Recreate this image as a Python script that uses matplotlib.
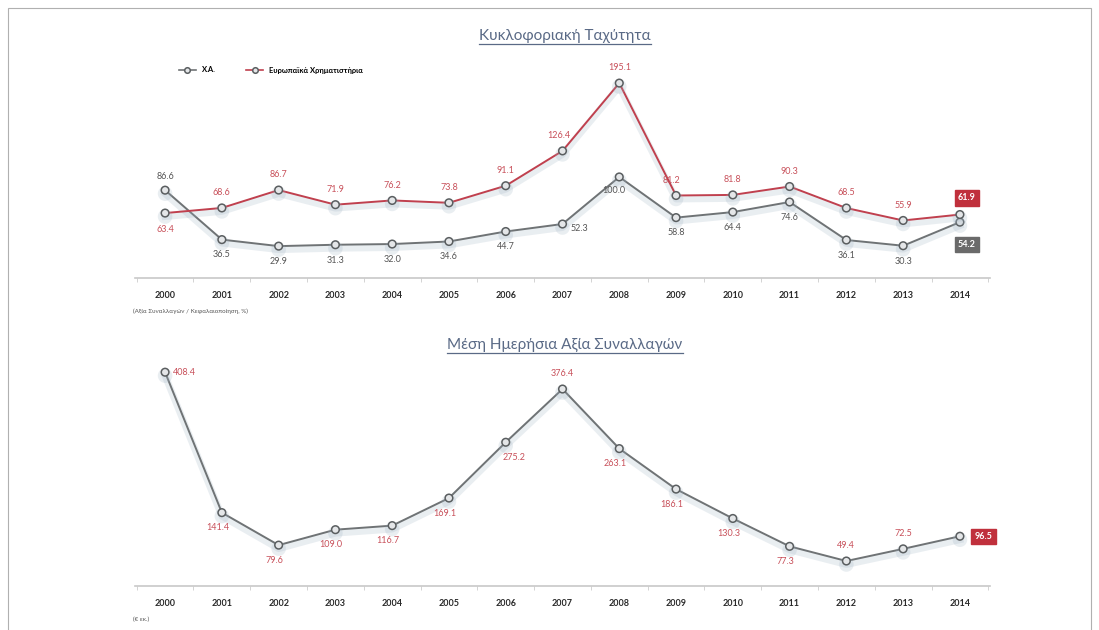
import numpy as np
import matplotlib.pyplot as plt
import matplotlib.patheffects as pe
from matplotlib.lines import Line2D
from matplotlib.patches import Rectangle

plt.rcParams['font.family'] = ['Lato', 'DejaVu Sans']

years = list(range(2000, 2015))
year_labels = [str(y) for y in years]

# Κυκλοφοριακή ταχύτητα (%)
athex_turnover = [86.6, 36.5, 29.9, 31.3, 32.0, 34.6, 44.7, 52.3, 100.0,
                  58.8, 64.4, 74.6, 36.1, 30.3, 54.2]
europe_turnover = [63.4, 68.6, 86.7, 71.9, 76.2, 73.8, 91.1, 126.4, 195.1,
                   81.2, 81.8, 90.3, 68.5, 55.9, 61.9]
# Μέση ημερήσια αξία συναλλαγών (εκ. €)
daily_value = [408.4, 141.4, 79.6, 109.0, 116.7, 169.1, 275.2, 376.4, 263.1,
               186.1, 130.3, 77.3, 49.4, 72.5, 96.5]

title_top = 'Κυκλοφοριακή Ταχύτητα'
title_bottom = 'Μέση Ημερήσια Αξία Συναλλαγών'
legend_names = ['Χ.Α.', 'Ευρωπαϊκά Χρηματιστήρια']
note_top = '(Αξία Συναλλαγών / Κεφαλαιοποίηση, %)'
note_bottom = '(€ εκ.)'

W, H = 1099, 630
grey = '#6f7375'
red = '#c0404e'
lab_red = '#c8505a'
title_col = '#5a6a86'
shadow = [pe.SimpleLineShadow(offset=(0, -2.5), shadow_color='#9fb2c2', alpha=0.22, linewidth=5),
          pe.Normal()]

fig = plt.figure(figsize=(W / 100, H / 100), dpi=100)


def px_axes(left, top, right, bottom):
    return fig.add_axes([left / W, 1 - bottom / H, (right - left) / W, (bottom - top) / H])


def style_axes(ax, ylim):
    ax.set_xlim(1999.47, 2014.53)
    ax.set_ylim(*ylim)
    for s in ['top', 'right', 'left']:
        ax.spines[s].set_visible(False)
    ax.spines['bottom'].set_color('#c8c8c8')
    ax.spines['bottom'].set_linewidth(1.2)
    ax.set_yticks([])
    ax.set_xticks(years)
    ax.set_xticklabels(year_labels, fontsize=6.5, fontweight='bold', color='#2a2a2a')
    ax.set_xticks(np.arange(1999.5, 2015, 1), minor=True)
    ax.tick_params(axis='x', which='major', length=0, pad=9)
    ax.tick_params(axis='x', which='minor', length=3, color='#cccccc')
    ax.patch.set_alpha(0)


def underlined_title(text, x, y):
    t = fig.text(x / W, 1 - y / H, text, ha='center', va='center', fontsize=11, color=title_col)
    fig.canvas.draw()
    bb = t.get_window_extent()
    fig.add_artist(Line2D([bb.x0 / W, bb.x1 / W], [(bb.y0 - 1) / H] * 2,
                          color=title_col, lw=0.9))


def boxed(ax, x, y, text, fc, dx, dy):
    ax.annotate(text, (x, y), xytext=(dx, dy), textcoords='offset points',
                ha='center', va='center', fontsize=6.5, fontweight='bold', color='white',
                bbox=dict(boxstyle='square,pad=0.35', fc=fc, ec=fc))


# ---------- top panel ----------
ax1 = px_axes(135, 60, 990, 278)
style_axes(ax1, (-2.4, 218.5))
mk = dict(marker='o', ms=5.5, mfc='#e4e6e8', mec='#5a5e60', mew=1.1)
ax1.plot(years, athex_turnover, color=grey, lw=1.4, path_effects=shadow, zorder=3, **mk)
ax1.plot(years, europe_turnover, color=red, lw=1.4, path_effects=shadow, zorder=3, **mk)

grey_pos = ['above'] + ['below'] * 6 + ['right', 'belowleft'] + ['below'] * 5 + [None]
for i, (x, v) in enumerate(zip(years, athex_turnover)):
    p = grey_pos[i]
    if p is None:
        continue
    off = {'above': (0, 10), 'below': (0, -11), 'right': (12, -3), 'belowleft': (-4, -10)}[p]
    ax1.annotate(f'{v:.1f}', (x, v), xytext=off, textcoords='offset points',
                 ha='center', va='center', fontsize=6.5, color='#555555')
for i, (x, v) in enumerate(zip(years, europe_turnover)):
    if i == 14:
        continue
    off = (0, -12) if i == 0 else (-3, 11) if i in (7, 9) else (0, 11)
    ax1.annotate(f'{v:.1f}', (x, v), xytext=off, textcoords='offset points',
                 ha='center', va='center', fontsize=6.5, color=lab_red)
boxed(ax1, years[-1], europe_turnover[-1], f'{europe_turnover[-1]:.1f}', '#c0303c', 5, 12)
boxed(ax1, years[-1], athex_turnover[-1], f'{athex_turnover[-1]:.1f}', '#6a6a6a', 5, -16)

handles = [Line2D([], [], color=grey, **mk), Line2D([], [], color=red, **mk)]
for h in handles:
    h.set_markersize(4)
    h.set_linewidth(1.2)
fig.legend(handles, legend_names, loc='center left', bbox_to_anchor=(172 / W, 1 - 70 / H),
           ncol=2, frameon=False, handlelength=2.2, columnspacing=4,
           prop={'weight': 'bold', 'size': 5.5})

fig.text(133 / W, 1 - 311 / H, note_top, fontsize=4.5, color='#555555', va='center')

# ---------- bottom panel ----------
ax2 = px_axes(135, 360, 990, 586)
style_axes(ax2, (1.9, 431.6))
ax2.plot(years, daily_value, color=grey, lw=1.4, path_effects=shadow, zorder=3, **mk)
for i, (x, v) in enumerate(zip(years, daily_value)):
    if i == 14:
        continue
    if i == 0:
        off, ha = (6, 0), 'left'
    elif i == 6:
        off, ha = (6, -11), 'center'
    elif i in (7, 12, 13):
        off, ha = (0, 11), 'center'
    else:
        off, ha = (-3, -11), 'center'
    ax2.annotate(f'{v:.1f}', (x, v), xytext=off, textcoords='offset points',
                 ha=ha, va='center', fontsize=6.5, color=lab_red)
boxed(ax2, years[-1], daily_value[-1], f'{daily_value[-1]:.1f}', '#c0303c', 17, 0)

fig.text(133 / W, 1 - 619 / H, note_bottom, fontsize=4.5, color='#555555', va='center')

underlined_title(title_top, 565, 36)
underlined_title(title_bottom, 565, 345)

# thin frame round the page
fig.add_artist(Rectangle((8 / W, -0.01), (1091 - 8) / W, 1 - 8 / H + 0.01,
                         transform=fig.transFigure, fill=False, ec='#b0b0b0', lw=0.8))

fig.savefig('out.png', dpi=100)
